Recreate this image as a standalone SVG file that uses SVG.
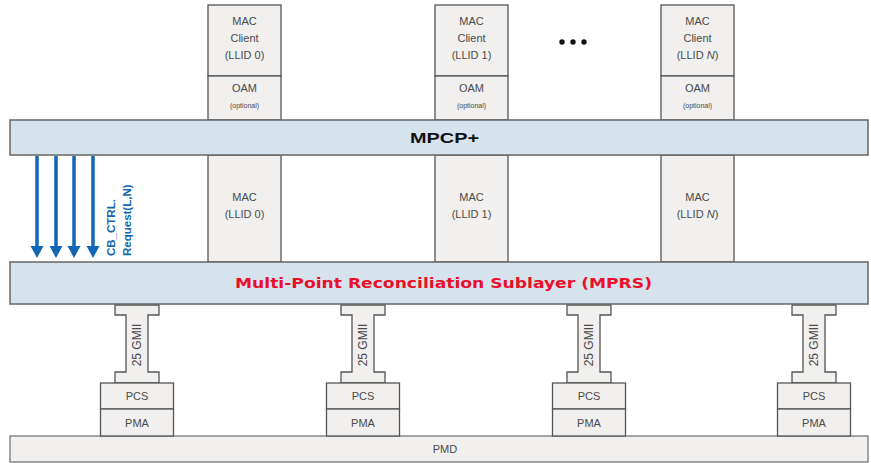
<svg xmlns="http://www.w3.org/2000/svg" width="871" height="463" viewBox="0 0 871 463">
<defs>
<style>
.box{fill:#f1f0ef;stroke:#555;stroke-width:1.3}
.bar{fill:#d6e3ed;stroke:#666;stroke-width:1.5}
.pmd{fill:#f1f0ef;stroke:#777;stroke-width:1.3}
.t{font-family:"Liberation Sans",Arial,sans-serif;fill:#4a4a4a;text-anchor:middle}
.s{font-size:11px}
.xs{font-size:7px}
.arr{stroke:#1167b4;stroke-width:3.5;fill:none}
.head{fill:#1167b4}
.lbl{font-family:"Liberation Sans",Arial,sans-serif;font-size:11.5px;font-weight:bold;fill:#1167b4}
</style>
<g id="gmii">
<path d="M-22,305 L22,305 L22,315 L11,315 L11,372 L22,372 L22,383 L-22,383 L-22,372 L-11,372 L-11,315 L-22,315 Z" class="box"/>
<text class="t" style="font-size:12px" transform="translate(4,345) rotate(-90)">25 GMII</text>
<rect x="-36.5" y="383" width="73" height="26" class="box"/>
<text class="t s" x="0" y="400">PCS</text>
<rect x="-36.5" y="409" width="73" height="27" class="box"/>
<text class="t s" x="0" y="427">PMA</text>
</g>
</defs>

<g id="pmd">
<rect x="10" y="436" width="858" height="26" class="pmd"/>
<text class="t s" x="445" y="453">PMD</text>
</g>

<g id="phy0"><use href="#gmii" transform="translate(137,0)"/></g>
<g id="phy1"><use href="#gmii" transform="translate(363,0)"/></g>
<g id="phy2"><use href="#gmii" transform="translate(589,0)"/></g>
<g id="phy3"><use href="#gmii" transform="translate(814,0)"/></g>

<g id="client0">
<rect x="208" y="5" width="73" height="71" class="box"/>
<text class="t s" x="244.5" y="25">MAC</text>
<text class="t s" x="244.5" y="42">Client</text>
<text class="t s" x="244.5" y="59">(LLID 0)</text>
<rect x="208" y="76" width="73" height="44" class="box"/>
<text class="t s" x="244.5" y="92">OAM</text>
<text class="t xs" x="244.5" y="108">(optional)</text>
</g>
<g id="client1">
<rect x="435" y="5" width="73" height="71" class="box"/>
<text class="t s" x="471.5" y="25">MAC</text>
<text class="t s" x="471.5" y="42">Client</text>
<text class="t s" x="471.5" y="59">(LLID 1)</text>
<rect x="435" y="76" width="73" height="44" class="box"/>
<text class="t s" x="471.5" y="92">OAM</text>
<text class="t xs" x="471.5" y="108">(optional)</text>
</g>
<g id="dots">
<circle cx="562" cy="42" r="2.7" fill="#111"/>
<circle cx="573" cy="42" r="2.7" fill="#111"/>
<circle cx="584" cy="42" r="2.7" fill="#111"/>
</g>
<g id="clientN">
<rect x="661" y="5" width="73" height="71" class="box"/>
<text class="t s" x="697.5" y="25">MAC</text>
<text class="t s" x="697.5" y="42">Client</text>
<text class="t s" x="697.5" y="59">(LLID <tspan font-style="italic">N</tspan>)</text>
<rect x="661" y="76" width="73" height="44" class="box"/>
<text class="t s" x="697.5" y="92">OAM</text>
<text class="t xs" x="697.5" y="108">(optional)</text>
</g>

<g id="mac0">
<rect x="208" y="155" width="73" height="107" class="box"/>
<text class="t s" x="244.5" y="201">MAC</text>
<text class="t s" x="244.5" y="218">(LLID 0)</text>
</g>
<g id="mac1">
<rect x="435" y="155" width="73" height="107" class="box"/>
<text class="t s" x="471.5" y="201">MAC</text>
<text class="t s" x="471.5" y="218">(LLID 1)</text>
</g>
<g id="macN">
<rect x="661" y="155" width="73" height="107" class="box"/>
<text class="t s" x="697.5" y="201">MAC</text>
<text class="t s" x="697.5" y="218">(LLID <tspan font-style="italic">N</tspan>)</text>
</g>

<g id="mpcp">
<rect x="10" y="120" width="858" height="35" class="bar"/>
<text x="410" y="143" textLength="69" lengthAdjust="spacingAndGlyphs" style="font-family:'Liberation Sans',Arial,sans-serif;font-size:14px;font-weight:bold;fill:#111">MPCP+</text>
</g>

<g id="mprs">
<rect x="10" y="262" width="858" height="42" class="bar"/>
<text x="235" y="288" textLength="417" lengthAdjust="spacingAndGlyphs" style="font-family:'DejaVu Sans',Arial,sans-serif;font-size:14px;font-weight:bold;fill:#e8102a">Multi-Point Reconciliation Sublayer (MPRS)</text>
</g>

<g id="connectors">
<line x1="37" y1="156" x2="37" y2="248" class="arr"/>
<path d="M30.5,246 L43.5,246 L37,258 Z" class="head"/>
<line x1="56" y1="156" x2="56" y2="248" class="arr"/>
<path d="M49.5,246 L62.5,246 L56,258 Z" class="head"/>
<line x1="74" y1="156" x2="74" y2="248" class="arr"/>
<path d="M67.5,246 L80.5,246 L74,258 Z" class="head"/>
<line x1="93" y1="156" x2="93" y2="248" class="arr"/>
<path d="M86.5,246 L99.5,246 L93,258 Z" class="head"/>
<text transform="translate(115,256) rotate(-90)" class="lbl">CB_CTRL.</text>
<text transform="translate(131,256) rotate(-90)" class="lbl">Request(L,N)</text>
</g>
</svg>
